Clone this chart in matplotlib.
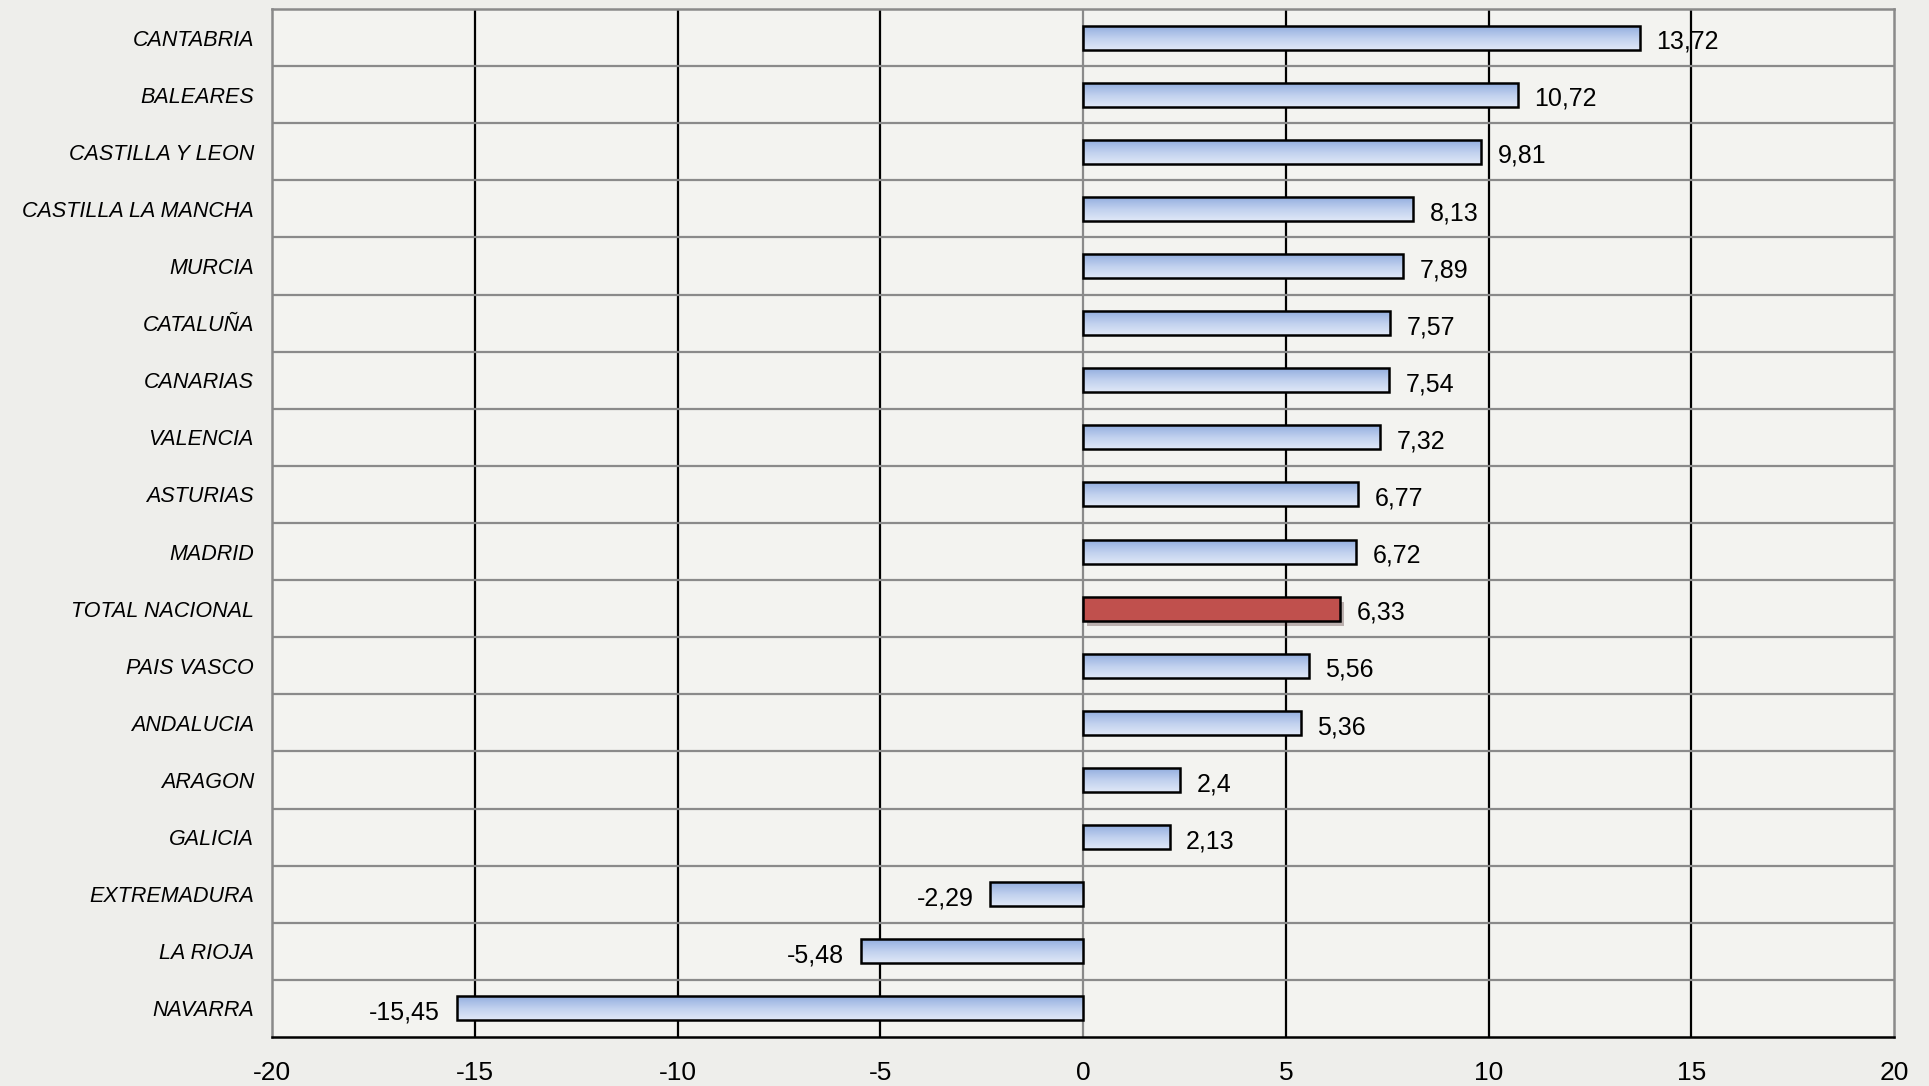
import numpy as np
import matplotlib
matplotlib.use("Agg")
import matplotlib.pyplot as plt
import matplotlib.patheffects as pe
from matplotlib.colors import LinearSegmentedColormap

regions = ["CANTABRIA", "BALEARES", "CASTILLA Y LEON", "CASTILLA LA MANCHA", "MURCIA",
           "CATALUÑA", "CANARIAS", "VALENCIA", "ASTURIAS", "MADRID", "TOTAL NACIONAL",
           "PAIS VASCO", "ANDALUCIA", "ARAGON", "GALICIA", "EXTREMADURA", "LA RIOJA", "NAVARRA"]
values = [13.72, 10.72, 9.81, 8.13, 7.89, 7.57, 7.54, 7.32, 6.77, 6.72, 6.33,
          5.56, 5.36, 2.4, 2.13, -2.29, -5.48, -15.45]
value_labels = ["13,72", "10,72", "9,81", "8,13", "7,89", "7,57", "7,54", "7,32", "6,77",
                "6,72", "6,33", "5,56", "5,36", "2,4", "2,13", "-2,29", "-5,48", "-15,45"]
highlight = "TOTAL NACIONAL"
xticks = [-20, -15, -10, -5, 0, 5, 10, 15, 20]

plt.rcParams['font.family'] = ['Liberation Sans', 'DejaVu Sans']

fig = plt.figure(figsize=(19.29, 10.86), dpi=100)
fig.patch.set_facecolor("#eeeeeb")
ax = fig.add_axes([0.141, 0.0451, 0.982 - 0.141, 0.9917 - 0.0451])
ax.set_facecolor("#f3f3f0")

y = np.arange(len(regions))
bars = ax.barh(y, values, height=0.42, facecolor="none", edgecolor="black",
               linewidth=1.8, zorder=4)

grad = LinearSegmentedColormap.from_list("g", ["#93aedf", "#c0d0ee", "#e0e8f7"])
gimg = np.linspace(0, 1, 64).reshape(-1, 1)
for b, name in zip(bars, regions):
    x0, y0, w, h = b.get_x(), b.get_y(), b.get_width(), b.get_height()
    if name == highlight:
        b.set_facecolor("#c0504d")
        b.set_path_effects([pe.SimplePatchShadow(offset=(3, -4), alpha=0.3), pe.Normal()])
    else:
        ax.imshow(gimg, cmap=grad, aspect="auto", extent=(x0, x0 + w, y0 + h, y0),
                  zorder=3, interpolation="bilinear")

ax.set_xlim(-20, 20)
ax.set_ylim(len(regions) - 0.5, -0.5)
ax.set_xticks(xticks)
ax.set_xticklabels([str(t) for t in xticks], fontsize=19)
ax.set_yticks(y)
ax.set_yticklabels(regions, fontsize=15.5, style="italic")
ax.set_yticks(np.arange(len(regions) - 1) + 0.5, minor=True)
ax.tick_params(axis="both", which="both", length=0)
ax.tick_params(axis="x", pad=17)
ax.tick_params(axis="y", pad=13)

for t in xticks[1:-1]:
    ax.axvline(t, color="#8a8a8a" if t == 0 else "black", lw=1.6, zorder=1)
ax.grid(which="minor", axis="y", color="#8a8a8a", lw=1.6, zorder=1)

for s in ["top", "left", "right"]:
    ax.spines[s].set_color("#8a8a8a")
    ax.spines[s].set_linewidth(1.8)
ax.spines["bottom"].set_color("black")
ax.spines["bottom"].set_linewidth(1.8)

for yi, v, lab in zip(y, values, value_labels):
    if v >= 0:
        ax.annotate(lab, (v, yi), xytext=(12, -3), textcoords="offset points",
                    ha="left", va="center", fontsize=18, zorder=5)
    else:
        ax.annotate(lab, (v, yi), xytext=(-12, -3), textcoords="offset points",
                    ha="right", va="center", fontsize=18, zorder=5)

fig.savefig("out.png", dpi=100, facecolor=fig.get_facecolor())
